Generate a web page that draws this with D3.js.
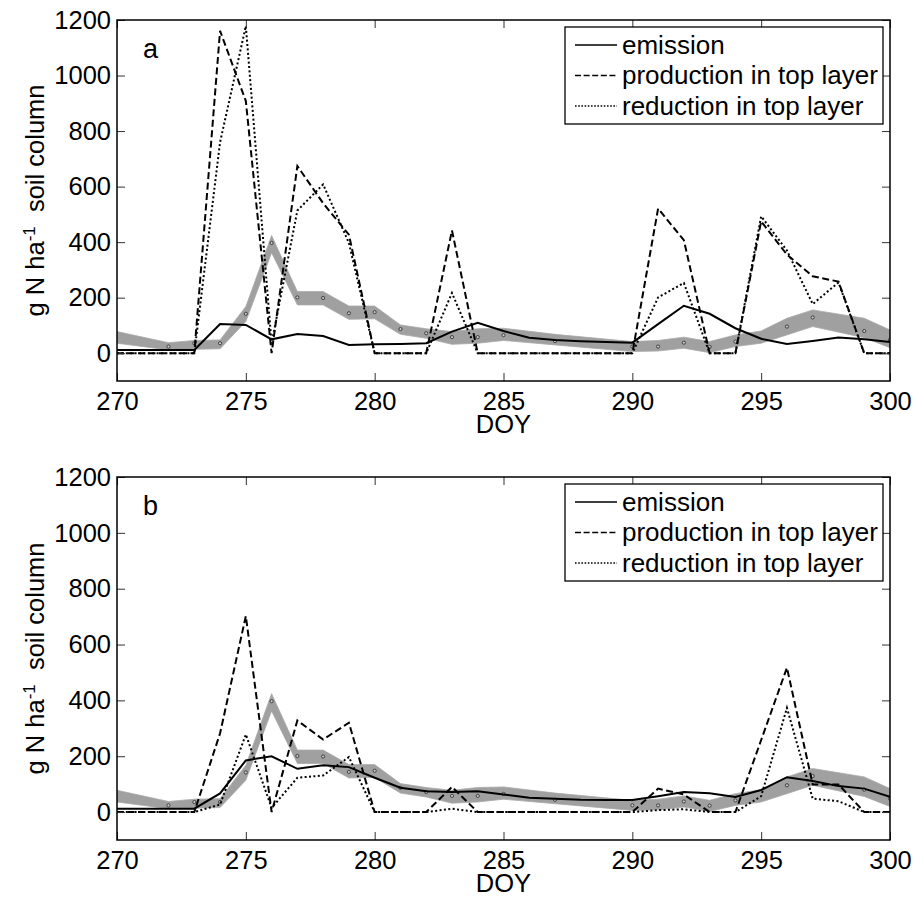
<!DOCTYPE html>
<html><head><meta charset="utf-8">
<script src="https://cdn.jsdelivr.net/npm/d3@7"></script>
<style>
html,body{margin:0;padding:0;background:#fff;}
svg{display:block;font-family:Arial,"Liberation Sans",sans-serif;}
</style></head><body>
<svg id="chart" width="914" height="898"></svg>
<script>
// ---------- data ----------
const days = [270,271,272,273,274,275,276,277,278,279,280,281,282,283,284,285,286,287,288,289,290,291,292,293,294,295,296,297,298,299,300];

const emissionA   = [12,12,12,12,105,102,50,69,62,30,32,33,36,78,110,80,56,48,43,40,38,105,171,142,90,52,33,44,57,50,40];
const productionA = [0,0,0,0,1161,908,0,674,540,427,0,0,0,442,0,0,0,0,0,0,0,521,407,0,0,475,355,277,258,0,0];
const reductionA  = [0,0,0,0,760,1178,35,514,608,397,0,0,0,217,0,0,0,0,0,0,0,201,253,0,0,493,370,177,255,0,0];

const emissionB   = [12,12,12,12,67,185,200,155,168,161,123,87,75,72,75,63,51,48,44,43,43,57,72,67,54,79,125,111,93,84,55];
const productionB = [0,0,0,0,282,702,0,328,260,320,0,0,0,90,0,0,0,0,0,0,0,84,63,0,0,258,517,99,99,0,0];
const reductionB  = [0,0,0,0,27,278,15,123,131,197,0,0,0,12,0,0,0,0,0,0,0,7,10,0,0,57,373,48,39,0,0];

// measured range (grey band) and measured points
const bandDays  = [270,272,273,274,275,276,277,278,279,280,281,282,283,284,285,287,290,291,292,293,294,295,296,297,299,300];
const bandLow   = [36,12,14,16,114,362,174,174,122,124,68,54,32,36,46,30,6,8,18,2,24,36,66,96,56,20];
const bandHigh  = [78,38,46,48,168,424,222,222,170,170,102,88,78,88,90,68,42,46,58,42,66,80,126,156,126,84];
const markerDays = [272,273,274,275,276,277,278,279,280,281,282,283,284,285,287,290,291,292,293,294,296,297,299,300];
const markerVals = [24,36,36,142,397,201,199,144,148,87,72,58,58,65,44,24,24,38,23,42,96,129,80,48];

const xTicks = [270,275,280,285,290,295,300];
const yTicks = [0,200,400,600,800,1000,1200];
const legendLabels = ["emission","production in top layer","reduction in top layer"];
const panelLabels = ["a","b"];
const xLabel = "DOY";

// ---------- drawing ----------
const svg = d3.select("#chart");
const L = 117, R = 890;
const panels = [
  {top:20, bottom:381, label:panelLabels[0], series:[emissionA, productionA, reductionA]},
  {top:477, bottom:840, label:panelLabels[1], series:[emissionB, productionB, reductionB]}
];
const styles = [
  {dash:null, lDash:null},
  {dash:"7,3.5", lDash:"6,2.6"},
  {dash:"2,2.4", lDash:"1.6,1.6"}
];

panels.forEach((p, pi) => {
  const x = d3.scaleLinear().domain([270,300]).range([L,R]);
  const y = d3.scaleLinear().domain([-100,1200]).range([p.bottom,p.top]);
  const g = svg.append("g");
  const clipId = "clip" + pi;
  svg.append("clipPath").attr("id", clipId).append("rect")
    .attr("x", L).attr("y", p.top).attr("width", R-L).attr("height", p.bottom-p.top);
  const plot = g.append("g").attr("clip-path", `url(#${clipId})`);

  const band = bandDays.map((d,i)=>({d, lo:bandLow[i], hi:bandHigh[i]}));
  plot.append("path").datum(band)
    .attr("d", d3.area().x(d=>x(d.d)).y0(d=>y(d.lo)).y1(d=>y(d.hi)))
    .attr("fill", "#a0a0a0").attr("stroke","#a8a8a8").attr("stroke-width",0.8);

  plot.selectAll("circle.m").data(markerDays.map((d,i)=>({d, v:markerVals[i]})))
    .enter().append("circle").attr("class","m")
    .attr("cx", d=>x(d.d)).attr("cy", d=>y(d.v)).attr("r",1.6)
    .attr("fill","#c8c8c8").attr("stroke","#333").attr("stroke-width",0.9);

  p.series.forEach((vals, si) => {
    const data = days.map((d,i)=>({d, v:vals[i]}));
    const path = plot.append("path").datum(data)
      .attr("d", d3.line().x(d=>x(d.d)).y(d=>y(d.v)))
      .attr("fill","none").attr("stroke","#000").attr("stroke-width",2)
      .attr("stroke-linejoin","miter");
    if (styles[si].dash) path.attr("stroke-dasharray", styles[si].dash);
  });

  // axes
  const fs = "25.5px";
  const ax = g.append("g").attr("transform",`translate(0,${p.bottom})`)
    .call(d3.axisBottom(x).tickValues(xTicks).tickSizeInner(-8).tickSizeOuter(0).tickPadding(11).tickFormat(d3.format("d")));
  const ay = g.append("g").attr("transform",`translate(${L},0)`)
    .call(d3.axisLeft(y).tickValues(yTicks).tickSizeInner(-8).tickSizeOuter(0).tickPadding(6).tickFormat(d3.format("d")));
  const at = g.append("g").attr("transform",`translate(0,${p.top})`)
    .call(d3.axisTop(x).tickValues(xTicks).tickSizeInner(-8).tickSizeOuter(0).tickFormat(""));
  const ar = g.append("g").attr("transform",`translate(${R},0)`)
    .call(d3.axisRight(y).tickValues(yTicks).tickSizeInner(-8).tickSizeOuter(0).tickFormat(""));
  [ax,ay,at,ar].forEach(a=>{
    a.select(".domain").remove();
    a.selectAll(".tick line").attr("stroke","#333").attr("stroke-width",1);
    a.selectAll(".tick text").attr("font-size",fs).attr("fill","#000")
      .attr("font-family",'Arial,"Liberation Sans",sans-serif');
  });
  g.append("rect").attr("x",L).attr("y",p.top).attr("width",R-L).attr("height",p.bottom-p.top)
    .attr("fill","none").attr("stroke","#000").attr("stroke-width",1.5);

  // x label
  g.append("text").attr("x",(L+R)/2).attr("y",p.bottom+52).attr("text-anchor","middle")
    .attr("font-size",fs).text(xLabel);

  // y label
  const yl = g.append("text")
    .attr("transform",`translate(44,${(p.top+p.bottom)/2}) rotate(-90)`)
    .attr("text-anchor","middle").attr("font-size",fs);
  yl.append("tspan").text("g N ha");
  yl.append("tspan").attr("font-size","17px").attr("dy","-9").text("-1");
  yl.append("tspan").attr("dy","9").text("\u00a0 soil column");

  // panel label
  g.append("text").attr("x",143).attr("y",p.top+38).attr("font-size","27px").text(p.label);

  // legend
  const lx = 565, ly = p.top + 7, lw = 318, lh = 97;
  const lg = g.append("g");
  lg.append("rect").attr("x",lx).attr("y",ly).attr("width",lw).attr("height",lh)
    .attr("fill","#fff").attr("stroke","#000").attr("stroke-width",1.3);
  const rows = [18, 48.5, 79];
  legendLabels.forEach((t, i) => {
    const ry = ly + rows[i];
    const ln = lg.append("line").attr("x1",lx+10).attr("x2",lx+52).attr("y1",ry).attr("y2",ry)
      .attr("stroke","#000").attr("stroke-width",1.3);
    if (styles[i].lDash) ln.attr("stroke-dasharray", styles[i].lDash);
    lg.append("text").attr("x",lx+57).attr("y",ry+8.5).attr("font-size","26px").text(t);
  });
});
</script>
</body></html>
